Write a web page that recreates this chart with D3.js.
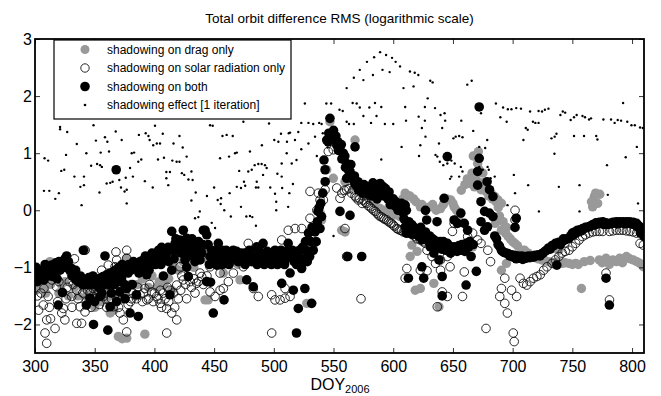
<!DOCTYPE html>
<html>
<head>
<meta charset="utf-8">
<script src="https://cdn.jsdelivr.net/npm/d3@7"></script>
<style>
  body { margin: 0; background: #fff; }
  svg { display: block; font-family: "Liberation Sans", Arial, Helvetica, sans-serif; }
</style>
</head>
<body>
<svg id="chart" width="661" height="396"></svg>
<script>
const X_TICKS = [300, 350, 400, 450, 500, 550, 600, 650, 700, 750, 800];
const Y_TICKS = [-2, -1, 0, 1, 2, 3];

const LEGEND_LABELS = [
    "shadowing on drag only",
    "shadowing on solar radiation only",
    "shadowing on both",
    "shadowing effect [1 iteration]"
];

// [DOY, log10 RMS]
const drag_only = [
    [304,-1.25],[307,-1.34],[312.6,-0.9],[318,-1.1],[322,-1.3],[330,-1.1],[341.9,-0.7],[345,-1.35],[352,-1.3],
    [358,-1.45],[365,-1.5],[369.8,-2.21],[373,-2.25],[376.8,-2.24],[392,-2.17],[376.8,-0.84],[384,-1.5],[395,-1.35],
    [404,-1.25],[414.5,-1.4],[420,-1.05],[428,-0.95],[436,-0.85],[442,-0.64],[445,-1.57],[442.4,-1.57],[450,-0.9],
    [457.7,-1.1],[463,-0.8],[471.7,-1.22],[480,-0.85],[490,-0.9],[502.4,-0.78],[509.4,-0.81],[515,-0.85],[522,-0.75],
    [527.6,-1.63],[533,-0.61],[539,-0.06],[540,-0.17],[544.3,0.71],[547,1.55],[549.8,0.56],[556.8,-0.35],[559.6,-0.38],
    [559.6,0.5],[561,-0.81],[568,1.23],[572.2,0.36],[576.4,0.27],[580.6,0.18],[584.8,0.12],[589,0.03],[593.2,0.0],
    [597.3,-0.05],[601.5,-0.08],[605.7,-0.11],[607,0.12],[612,0.25],[617,0.2],[615.6,-0.61],[620,-0.72],[614.2,-0.81],
    [618.4,-1.4],[622.7,-1.37],[622.7,0.06],[627,0.0],[631.1,0.06],[634,-1.28],[638.3,-1.69],[639.6,0.03],[645.3,0.94],
    [648.2,0.18],[651,0.06],[655,-0.1],[663.7,0.47],[666.5,-0.64],[667,0.95],[668,0.41],[670.7,0.82],[671.3,1.03],
    [672,0.71],[673.5,0.36],[675,0.65],[677.7,0.33],[682,0.3],[685,0.24],[687.8,0.18],[690.6,0.12],[685.5,-0.23],
    [690.6,-0.35],[694,-0.4],[696.2,-0.46],[690.6,-1.05],[694.8,-0.93],[701.9,-0.58],[707.5,-0.7],[713.2,-0.75],
    [718.8,-0.81],[724.5,-0.87],[730.1,-0.9],[735.8,-0.93],[735.8,-0.67],[738.7,-0.7],[741.5,-0.93],[747.2,-0.93],
    [752.8,-0.93],[757.6,-1.37],[767,0.06],[768.4,0.24],[771.2,0.12],[773,0.28],[772.6,-0.87],[778.2,-0.84],
    [783.9,-0.87],[789.6,-0.84],[795.3,-0.81],[801,-0.87],[806.6,-0.93],[809.4,-0.99],
    [301,-1.4],[305,-1.1],[309,-1.45],[313,-1.3],[316,-1.2],[320,-1.45],[325,-1.25],[328,-1.5],[333,-1.35],[336,-1.5],
    [340,-1.35],[343,-1.5],[348,-1.45],[350,-1.7],[355,-1.6],[360,-1.55],[363,-1.8],[366,-1.75],[370,-1.5],[372,-1.3],
    [375,-1.45],[380,-1.3],[386,-1.3],[390,-1.2],[398,-1.15],[402,-1.35],[408,-1.3],[412,-1.2],[417,-1.0],[424,-0.9],
    [430,-0.85],[433,-1.0],[440,-0.85],[447,-0.75],[453,-0.8],[460,-0.85],[466,-0.8],[470,-0.95],[475,-0.85],[485,-0.85],
    [495,-0.85],[500,-0.8],[505,-0.85],[518,-0.8],[525,-0.7],
    [608,0.2],[610,0.3],[614,0.25],[619,0.15],[624,0.1],[629,0.05],[633,0.1],[636,0.0],[642,0.1],[645,0.2],[650,0.12],
    [653,0.0],[657,0.35],[660,0.45],[662,0.55],[665,0.5],[666,0.65],[669,0.55],[671,0.5],[674,0.48],[676,0.42],
    [679,0.38],[680,0.25],[683,0.2],[686,0.15],[688,0.05],[689,-0.1],[692,-0.2],[695,-0.3],[698,-0.5],[700,-0.55],
    [704,-0.62],[710,-0.7],[716,-0.8],[721,-0.85],[727,-0.88],[733,-0.92],[738,-0.9],[744,-0.92],[750,-0.95],
    [755,-0.95],[760,-0.9],[765,-0.88],[766,0.15],[769.5,0.3],[775,-0.92],[781,-0.95],[787,-0.9],[792,-0.92],
    [798,-0.85],[804,-0.9]
];

const solar_only = [
    [302,-1.5],[304,-1.2],[307,-1.66],[307.5,-1.37],[308.4,-2.15],[309.8,-2.33],[309.8,-1.92],[311,-1.51],[314,-1.22],
    [316.8,-2.07],[318,-1.34],[322.4,-1.8],[323.7,-1.72],[325,-1.92],[328.7,-1.25],[330.7,-1.51],[333,-0.85],[335,-1.4],
    [335,-1.98],[337.7,-1.69],[339,-1.98],[341.9,-1.78],[341.9,-0.7],[344,-1.4],[348.8,-1.37],[351.7,-1.48],[355.8,-1.05],
    [357.2,-1.51],[361.4,-0.96],[361.4,-1.57],[362.8,-1.16],[365.6,-1.69],[367,-0.99],[367.8,-0.73],[368.4,-0.87],
    [371.2,-1.8],[374,-1.92],[376.8,-0.84],[376.8,-0.7],[376.8,-2.13],[380,-1.6],[382.3,-1.45],[388,-1.48],[392,-1.37],
    [393.6,-1.57],[397.7,-1.43],[399,-1.6],[401.9,-1.51],[404.7,-1.63],[407.5,-1.45],[410.3,-1.72],[410.3,-2.15],
    [413,-1.4],[414.5,-1.8],[418.7,-1.92],[418.7,-1.31],[421.4,-0.99],[424.2,-1.22],[427,-0.81],[429.8,-1.25],
    [432.6,-0.72],[435.4,-1.28],[438.2,-1.1],[439.6,-1.16],[439.6,-0.7],[443.8,-0.75],[446.6,-1.43],[446.6,-0.99],
    [450.8,-1.51],[455,-1.1],[455,-0.75],[455,-1.4],[457.7,-1.37],[461.9,-1.25],[461.9,-0.75],[466.1,-1.1],[468.9,-0.75],
    [474.5,-0.99],[477.3,-0.81],[478.6,-0.58],[482.8,-1.37],[487,-1.51],[487,-0.7],[492.6,-0.75],[498.2,-1.48],
    [498.2,-2.15],[501,-1.57],[502.4,-0.72],[505.2,-1.57],[506.6,-0.52],[509.4,-1.54],[509.4,-1.37],[512.1,-0.35],
    [513.6,-1.51],[516.3,-0.75],[517.8,-0.32],[523.4,-0.32],[530.3,-0.14],[530.3,0.33],[536,0.0],[537.3,0.3],
    [538.7,0.18],[541.5,0.18],[542.9,0.36],[545.6,1.03],[549.8,1.06],[552.7,0.39],[555.4,0.21],[559.6,-0.32],[561,0.36],
    [561,-0.81],[566.6,0.36],[568,0.25],[570.8,0.18],[573,-1.55],[575,0.18],[577.8,0.12],[580.6,0.06],[583.4,0.0],
    [586.2,-0.05],[589,-0.11],[591.8,-0.14],[594.6,-0.17],[598.7,-0.23],[601,-0.28],[603,-0.32],[605.7,-0.35],[610,-0.38],
    [614,-0.4],[618.4,-0.46],[622.7,-0.52],[627,-0.58],[611.4,-1.02],[610,-1.19],[622.7,-1.05],[628.3,-1.06],[628.3,-0.7],
    [632.5,-0.81],[635.4,-0.93],[636.9,-1.69],[639.6,-0.87],[639.6,-1.05],[641,-1.43],[645.3,-0.81],[645.3,-1.51],
    [647.6,-0.99],[649.6,-0.37],[650.9,-0.7],[651,-0.23],[655.2,-0.64],[658,-1.51],[659.5,-1.08],[662.3,-0.46],
    [666.5,-0.4],[670.7,-0.52],[673.5,-0.58],[677.7,-2.07],[679.2,-0.7],[681.5,-0.9],[689.2,-1.51],[690.6,-1.37],
    [693.4,-1.19],[693.4,-1.63],[695.6,-1.8],[699.1,-1.4],[700.5,-2.15],[701.3,-2.3],[702,0.0],[702,-0.17],[703.3,-1.51],
    [706.2,-1.19],[709,-1.28],[711.8,-1.31],[714.6,-1.25],[717.4,-1.19],[720.3,-1.16],[723.1,-1.13],[726,-1.05],
    [728.8,-0.99],[733,-0.93],[735.8,-0.87],[738.7,-0.81],[741.5,-0.75],[744,-0.72],[747.2,-0.7],[750,-0.64],
    [752.8,-0.58],[755.6,-0.52],[758.5,-0.46],[761,-0.43],[764.1,-0.4],[767,-0.38],[769.8,-0.37],[772.6,-0.37],
    [775.5,-0.37],[778.2,-1.1],[781.1,-1.57],[781.1,-0.37],[784,-0.36],[786.8,-0.35],[789.6,-0.35],[792.5,-0.35],
    [795.3,-0.36],[798.2,-0.37],[801,-0.38],[803.8,-0.4],[806.7,-0.58],[809.4,-0.61],
    [303,-1.75],[305,-1.45],[312,-1.7],[313,-1.9],[319,-1.6],[320,-1.25],[326,-1.55],[327,-1.35],[331,-1.7],[332,-1.3],
    [336,-1.55],[340,-1.45],[343,-1.6],[346,-1.45],[347,-1.7],[350,-1.55],[353,-1.4],[354,-1.65],[356,-1.3],[359,-1.45],
    [360,-1.7],[364,-1.55],[366,-1.4],[369,-1.55],[370,-1.7],[373,-1.55],[378,-1.65],[381,-1.55],[385,-1.55],[386,-1.35],
    [390,-1.6],[391,-1.45],[395,-1.55],[396,-1.3],[400,-1.45],[403,-1.55],[405,-1.4],[406,-1.7],[409,-1.55],[411,-1.35],
    [412,-1.6],[416,-1.45],[417,-1.7],[420,-1.55],[422,-1.4],[423,-1.15],[426,-1.3],[427,-1.55],[431,-1.35],[433,-1.2],
    [434,-1.45],[437,-1.25],[441,-1.3],[444,-1.15],
    [557,0.3],[559,0.35],[563,0.38],[565,0.3],[569,0.22],[572,0.2],[574,0.12],[576.5,0.14],[579,0.08],[582,0.03],
    [585,-0.02],[587.5,-0.08],[590.5,-0.12],[593,-0.16],[596,-0.2],[597.5,-0.22],[600,-0.26],[604,-0.33],[607,-0.36],
    [608.5,-0.38],[612,-0.4],[616,-0.43],[620,-0.5],[625,-0.55]
];

const both = [
    [301,-1.0],[303,-1.15],[306,-1.13],[310,-1.05],[314,-0.96],[315,-1.16],[319.5,-1.66],[320,-0.9],[322,-0.96],
    [323,-1.44],[326.5,-0.8],[328,-0.9],[330.7,-1.02],[332,-1.1],[335,-1.16],[337,-1.22],[339,-1.25],[340.5,-0.7],
    [341.9,-1.22],[343,-1.66],[344.6,-1.25],[346,-1.54],[347.5,-1.22],[349,-2.0],[349.4,-1.28],[350,-1.6],[351.7,-1.22],
    [354.4,-1.19],[354.4,-1.51],[357,-1.16],[357,-1.22],[358.6,-0.8],[359.9,-1.13],[361,-2.1],[362.8,-1.1],[362.8,-1.31],
    [362.8,-1.69],[365.6,-1.16],[368,0.71],[368.4,-1.13],[368.4,-1.6],[371,-1.04],[371,-1.43],[374,-1.1],[376.8,-1.02],
    [376.8,-1.37],[379.6,-1.8],[383.8,-0.96],[385,-1.48],[386.5,-1.86],[388,-0.9],[390.7,-0.87],[393.6,-1.13],
    [396.3,-0.82],[399,-0.87],[401,-0.95],[404.7,-0.81],[407.5,-0.73],[407.5,-1.15],[410.3,-0.75],[413,-1.48],
    [414.5,-0.37],[414.5,-1.05],[417.3,-0.58],[419,-0.7],[421.4,-0.52],[424.2,-0.35],[425.6,-0.87],[427,-0.49],
    [427,-1.0],[428.4,-1.16],[429.8,-0.58],[432.6,-0.78],[435.4,-0.84],[438.2,-0.87],[441,-0.35],[442.4,-0.35],
    [443.8,-0.43],[443.8,-1.25],[446.6,-0.81],[447,-1.26],[449.3,-0.87],[449.3,-1.8],[452.2,-0.96],[453.5,-0.58],
    [455,-0.85],[458.3,-1.57],[458,-0.8],[461,-0.9],[464,-0.75],[467,-0.85],[468.9,-0.72],[471,-0.8],[474,-0.9],
    [477.3,-1.22],[477,-0.8],[480,-0.75],[482.8,-1.34],[483,-0.85],[485.7,-0.64],[487,-0.8],[489,-0.9],[491,-0.58],
    [493,-0.8],[496,-0.85],[499,-0.75],[502,-0.9],[504,-0.8],[506.6,-1.28],[507,-0.75],[510,-0.85],[512,-0.58],
    [513.6,-1.1],[514,-0.8],[516.3,-1.4],[517,-0.9],[519,-2.15],[520,-0.8],[520.5,-1.72],[523.3,-1.02],[526,-1.37],
    [527,-0.7],[529,-0.4],[530,-0.81],[531.7,-1.63],[533,-0.7],[534.5,-0.38],[537,-0.02],[538.7,-0.32],[539.3,0.12],
    [540,-0.11],[542,0.88],[542.9,0.71],[544.3,1.23],[547,1.61],[548.5,1.29],[551,1.29],[552.7,1.14],[555.4,1.06],
    [555.4,-0.02],[558.2,1.0],[561,0.82],[561,0.56],[561.9,-0.81],[563.8,0.68],[563.8,-0.09],[566.6,0.53],[568,1.11],
    [569.4,0.47],[572.2,0.39],[573.6,-0.81],[576.4,0.36],[580.6,0.33],[583,0.48],[584.8,0.27],[589,0.47],[591.7,0.41],
    [594.6,0.3],[598.7,0.18],[603,0.06],[605.7,0.0],[607,0.12],[610,0.09],[611,0.0],[610,-0.29],[611,-0.4],
    [612.7,-1.19],[617,-0.29],[620,-0.4],[622.7,-0.35],[624,-0.52],[624,-0.99],[625.5,-1.19],[627,0.0],[628,-0.17],
    [628.3,-0.46],[631,-0.64],[634,-0.52],[634,-0.75],[636.7,-0.2],[638.3,-0.87],[639.6,-0.55],[641,-1.16],[641,-1.5],
    [642.6,0.21],[645.3,0.94],[645.3,-0.58],[648,-0.75],[650.9,-0.64],[651,-0.17],[653.8,-0.23],[656.6,-0.05],
    [656.6,-0.7],[658,-0.67],[659.5,-0.23],[661,-0.58],[661,-1.31],[662.3,-0.35],[665.2,-0.81],[667,-0.6],[669.6,-1.07],
    [670.7,0.68],[670.7,0.44],[672,1.81],[672,0.91],[673.5,0.15],[673.5,-0.2],[676.5,-0.02],[676.5,-0.35],[678.6,0.5],
    [679,-0.29],[680.6,0.36],[680.6,-0.05],[683.5,0.24],[683.5,-0.11],[685,-0.45],[687.8,-0.6],[690.6,-0.7],[693,-0.74],
    [696.2,-0.76],[699,-0.78],[701.9,-0.79],[702,-0.3],[703,-0.14],[704.5,-0.8],[707.5,-0.8],[710,-0.81],[713.2,-0.8],
    [716,-0.8],[718.8,-0.79],[721.5,-0.78],[724.5,-0.76],[727,-0.72],[730.1,-0.66],[733,-0.62],[735.8,-0.58],[737,-0.96],
    [738.6,-0.56],[741.5,-0.55],[744,-0.52],[747.2,-0.49],[750,-0.4],[752,-0.38],[754.3,-0.35],[756.5,-0.34],[758.5,-0.32],
    [761,-0.3],[764.1,-0.29],[767,-0.25],[769.8,-0.22],[772.6,-0.21],[775.5,-0.2],[778.2,-1.19],[778,-0.22],[781,-1.66],
    [781.1,-0.23],[784,-0.21],[786.8,-0.2],[789.6,-0.2],[792.5,-0.2],[795.3,-0.2],[798,-0.2],[801,-0.21],[803.8,-0.23],
    [806,-0.28],[808,-0.35],[810,-0.46],
    [300.5,-1.1],[302,-1.25],[304.5,-1.2],[305,-1.05],[307.5,-1.22],[308.5,-0.95],[311.5,-1.15],[312.5,-1.0],
    [316.5,-1.05],[317.5,-0.92],[318.5,-1.2],[321,-1.05],[324,-1.0],[325,-0.85],[327,-0.95],[329,-1.05],[331,-1.15],
    [333.5,-1.2],[334,-1.05],[336,-1.25],[338,-1.15],[340,-1.3],[342.5,-1.3],[345,-1.18],[346.5,-1.3],[348.5,-1.15],
    [350.5,-1.3],[352.5,-1.25],[353.5,-1.35],[355.5,-1.25],[356,-1.45],[358,-1.3],[360,-1.25],[361.5,-1.2],[364,-1.25],
    [364,-1.45],[366.5,-1.3],[367,-1.05],[369.5,-1.25],[370,-1.0],[372.5,-1.2],[373,-0.95],[375,-1.3],[375.5,-1.55],
    [378,-1.1],[378.5,-0.95],[380.5,-1.05],[381.5,-1.3],[382.5,-0.9],[385.5,-1.0],[387,-1.1],[389.5,-0.95],[391.5,-1.0],
    [392.5,-0.8],[394.5,-0.9],[395.5,-1.05],[397.5,-0.95],[398,-0.75],[400,-0.8],[402.5,-0.85],[403.5,-0.7],[405.5,-0.95],
    [406,-0.65],[409,-0.85],[411.5,-0.65],[412,-0.9],[415.5,-0.7],[416.5,-0.85],[418,-0.5],[420,-0.6],[422.5,-0.75],
    [423,-0.55],[426,-0.65],[428.5,-0.8],[430.5,-0.7],[431.5,-0.5],[433.5,-0.65],[434,-0.9],[436.5,-0.7],[437,-0.55],
    [439.5,-0.75],[440.5,-0.6],[445,-0.6],[446,-0.95],[448,-0.7],[451,-0.75],[452.5,-0.7],[454,-0.95],[456.5,-0.7],
    [457,-0.95],[459.5,-0.85],[460,-0.7],[462.5,-0.95],[463,-0.8],[465.5,-0.85],[466,-0.7],[470,-0.9],[472.5,-0.75],
    [473,-0.85],[475.5,-0.75],[476,-0.95],[478.5,-0.85],[479.5,-0.7],[481.5,-0.9],[484.5,-0.8],[486,-0.95],[488,-0.72],
    [490,-0.85],[492,-0.95],[494.5,-0.72],[495,-0.9],[497.5,-0.8],[498,-0.95],[500.5,-0.85],[501,-0.7],[503,-0.95],
    [505.5,-0.85],[506,-0.7],[508.5,-0.8],[509,-0.95],[511,-0.72],[515.5,-0.7],[518,-0.75],[519,-0.95],[521.5,-0.7],
    [522,-0.9],[524,-0.65],[525,-0.85],[526.5,-0.55],[528,-0.9],[531,-0.55],[532,-0.3],[535.5,-0.55],[536.5,-0.2],
    [538,0.05],[541,0.3],[543,0.5],[545.5,1.2],[546,1.35],[549.5,1.25],[550,1.4],[552,1.3],[553.5,1.2],[554,1.05],
    [556.5,1.15],[557,0.9],[559.5,0.95],[560,0.75],[562.5,0.7],[564.5,0.8],[565,0.6],[567.5,0.6],[568,0.45],[570.5,0.5],
    [571,0.35],[573,0.45],[574.5,0.3],[575.5,0.45],[577.5,0.3],[578.5,0.4],[579.5,0.28],[581.5,0.42],[582.5,0.25],
    [585.5,0.4],[586.5,0.2],[587.5,0.35],[590,0.3],[592.5,0.25],[593.5,0.38],[595.5,0.2],[596.5,0.32],[597.5,0.1],
    [600,0.2],[601,0.08],[602,0.15],[604,0.0],[606.5,0.05],[608.5,-0.05],[609,-0.15],[613,-0.2],[614,-0.35],
    [615.5,-0.25],[616,-0.42],[619,-0.35],[621,-0.45],[623,-0.3],[626,-0.45],[627,-0.38],[629.5,-0.55],[630.5,-0.45],
    [632.5,-0.6],[633,-0.5],[635.5,-0.6],[637,-0.55],[638,-0.65],[640.5,-0.68],[642,-0.55],[644,-0.7],[646.5,-0.62],
    [647,-0.72],[649.5,-0.7],[652,-0.68],[653.5,-0.72],[655,-0.62],[657.5,-0.6],[660,-0.72],[663,-0.65],[664,-0.55],
    [686.5,-0.5],[689,-0.63],[691.5,-0.72],[694.5,-0.75],[697.5,-0.8],[700.5,-0.82],[703,-0.85],[706,-0.84],
    [708.5,-0.86],[711.5,-0.84],[714.5,-0.83],[717.5,-0.82],[720,-0.8],[723,-0.8],[725.5,-0.75],[728.5,-0.7],
    [731.5,-0.68],[734.5,-0.62],[740,-0.6],[742.5,-0.5],[745.5,-0.5],[748.5,-0.45],[751,-0.43],[753,-0.4],[755.5,-0.37],
    [757.5,-0.36],[760,-0.32],[762.5,-0.3],[765.5,-0.27],[768.5,-0.26],[771,-0.24],[774,-0.22],[776.5,-0.25],
    [779.5,-0.25],[782.5,-0.24],[785.5,-0.22],[788,-0.24],[791,-0.22],[794,-0.24],[797,-0.22],[799.5,-0.24],
    [802.5,-0.26],[805,-0.3],[807,-0.4],[809,-0.4]
];

const effect = [
    [308,0.91],[311,0.87],[307.5,0.34],[312,0.34],[317,0.2],[320,0.3],[322,0.69],[324.5,0.71],[321,1.42],[321,1.46],
    [327,1.37],[326,0.97],[335,1.16],[333,0.59],[339,0.09],[338,0.41],[341,0.44],[341,0.59],[343,1.0],[347,0.78],
    [352,0.81],[354.5,0.79],[356,0.76],[349,1.49],[351,1.22],[354,0.31],[355,1.01],[358.6,1.28],[360.6,1.2],[362,1.03],
    [360,0.47],[363,0.48],[365,0.5],[367.6,1.38],[370.6,0.53],[372,0.4],[375,0.33],[376.8,0.36],[372.6,1.23],
    [376.8,0.12],[376,0.57],[381,1.0],[383,1.01],[379.6,0.74],[382,0.59],[387,1.32],[386.5,0.85],[389,0.89],
    [392.7,1.35],[395,1.3],[392,0.51],[396,1.23],[399,1.14],[400.5,1.48],[398.6,0.4],[402,1.17],[404.7,1.17],[403,0.89],
    [408,0.92],[407,1.34],[410,0.67],[413,0.67],[410,0.56],[411.6,0.44],[416,1.17],[415,0.87],[418.6,0.85],[421,0.85],
    [421,1.3],[423.7,1.1],[423,0.65],[425,0.62],[427,0.94],[428.5,0.54],[431,0.68],[432,0.53],[431,0.17],[434.6,0.31],
    [446.6,1.49],[448.8,1.48],[434,-0.14],[436.8,-0.12],[438,-0.02],[444,0.25],[448,-0.22],[450,0.4],[450.8,-0.31],
    [453,0.18],[455.8,0.21],[455.5,0.11],[457,1.3],[460.5,1.32],[465.6,1.3],[455,0.91],[462.5,0.94],[467.5,1.0],
    [469,1.01],[458.5,0.0],[463,0.3],[464,-0.11],[469,0.41],[472.5,0.06],[472.5,0.39],[476,0.43],[471,0.69],[474.5,1.55],
    [475,0.5],[477,-0.11],[480,-0.1],[482,-0.12],[480,1.03],[478.6,0.68],[481.5,0.71],[484,0.79],[487,0.81],[489.8,0.81],
    [492.6,0.79],[494,0.74],[485,0.4],[487,0.4],[485,-0.27],[485.7,0.5],[490,1.14],[491,0.62],[496,1.52],[497,0.4],
    [500.4,1.23],[503.8,1.2],[506,1.34],[502,0.0],[506.6,0.59],[510.8,1.0],[512,0.06],[512.5,1.35],[513.6,1.36],
    [520.5,1.37],[526,1.87],[523,1.53],[529,1.53],[533,1.51],[538,1.53],[540,1.51],[534.5,1.29],[523,1.07],[529,1.17],
    [536,0.95],[511,1.2],[517.7,1.23],[519,0.88],[515,0.82],[506.6,0.82],[503,0.64],[516,0.46],[513,0.3],[507,0.39],
    [501,0.29],[502,0.15],[541,1.35],[545,1.1],[550,-0.45],[544,1.87],[548,1.87],[555,1.76],[557.7,1.74],[561,1.55],
    [563,1.51],[567,1.51],[569.4,1.87],[572,1.8],[575,1.65],[581.4,1.53],[584.7,1.88],[590,1.81],[590,0.89],[593,1.51],
    [600,1.51],[561,2.14],[567,2.32],[572,2.46],[578,2.6],[584,2.68],[589,2.77],[594,2.72],[599,2.67],[602,2.6],
    [605.7,2.52],[575,2.28],[583,2.37],[591,2.46],[597,2.42],[566,1.88],[580,1.8],[586,1.65],[614,2.43],[618,2.41],
    [621,2.37],[608.6,2.14],[617,2.17],[631,2.27],[633,2.24],[610,1.81],[626.5,1.81],[635,1.79],[610.7,1.57],
    [626.5,1.57],[628.9,1.96],[607,1.11],[621.6,0.95],[621.3,1.64],[624,1.44],[627,1.29],[622.7,1.14],[639.6,1.67],
    [643,1.7],[643.5,1.57],[635.4,0.97],[636.9,0.94],[639,0.85],[641.9,0.79],[645.3,0.82],[648.7,0.87],[651.5,0.82],
    [650.4,1.26],[652.3,1.29],[655.2,1.3],[658,1.28],[647.6,0.55],[648.7,0.59],[641,1.44],[638.3,1.17],[656.6,0.76],
    [658,0.68],[655.2,0.59],[657,1.57],[662,2.2],[665.7,2.27],[667,1.39],[673.5,1.7],[672,0.76],[675,0.71],[679,0.76],
    [680,0.71],[681.5,0.56],[685,0.59],[672,1.11],[677,1.09],[678.7,1.23],[680,0.3],[686,1.87],[689.7,1.63],[692,1.8],
    [696,1.77],[699,1.77],[703,1.79],[707,1.78],[695,1.55],[695.7,0.09],[701,0.62],[702,0.3],[709,1.23],[711,1.44],
    [712.6,1.41],[713,0.44],[717,1.55],[719,1.53],[721.7,1.53],[714.6,1.73],[721.7,1.74],[724.6,1.73],[727,1.76],
    [730,1.78],[722,-0.02],[732.5,1.26],[735.2,1.29],[736.7,1.34],[735,0.99],[738.7,0.41],[740,1.67],[742,1.73],
    [744,1.71],[748.6,1.58],[751.4,1.63],[751.4,1.3],[753.6,1.67],[758.5,1.65],[760.6,1.63],[764,1.59],[765.6,1.61],
    [756,-0.02],[756,0.44],[759.8,1.3],[770,1.3],[771,1.24],[776,1.59],[779,0.79],[779.7,0.27],[782.4,1.59],
    [785.4,1.53],[788,1.58],[790.8,1.57],[792.5,1.88],[794.7,0.93],[796,1.55],[799.5,1.49],[802.3,1.49],[804,1.11],
    [805,0.12],[806.7,1.45],[809,1.44]
];

const GRAY = "#999999";

var svg = d3.select("svg#chart");
const plot = { left: 35, right: 644, top: 39, bottom: 353 };

var x = d3.scaleLinear().domain([300, 810]).range([plot.left, plot.right]);
var y = d3.scaleLinear().domain([-2.5, 3]).range([plot.bottom, plot.top]);

svg.append("defs").append("clipPath").attr("id", "plotclip")
    .append("rect")
    .attr("x", plot.left).attr("y", plot.top)
    .attr("width", plot.right - plot.left).attr("height", plot.bottom - plot.top);

var marks = svg.append("g").attr("clip-path", "url(#plotclip)");

marks.append("g").selectAll("circle").data(drag_only).join("circle")
    .attr("cx", d => x(d[0])).attr("cy", d => y(d[1])).attr("r", 4.7)
    .attr("fill", GRAY);

marks.append("g").selectAll("circle").data(solar_only).join("circle")
    .attr("cx", d => x(d[0])).attr("cy", d => y(d[1])).attr("r", 4.3)
    .attr("fill", "none").attr("stroke", "#111").attr("stroke-width", 0.9);

marks.append("g").selectAll("circle").data(both).join("circle")
    .attr("cx", d => x(d[0])).attr("cy", d => y(d[1])).attr("r", 4.8)
    .attr("fill", "#000");

marks.append("g").selectAll("circle").data(effect).join("circle")
    .attr("cx", d => x(d[0])).attr("cy", d => y(d[1])).attr("r", 1.2)
    .attr("fill", "#000");

// axes, MATLAB style: ticks inside, on all four sides
function style_axis(g, labels) {
    g.select(".domain").remove();
    g.selectAll(".tick line").attr("stroke", "#000").attr("stroke-width", 0.8);
    g.selectAll(".tick text").attr("fill", "#000").style("font-size", "16px")
        .style("font-family", '"Liberation Sans", Arial, sans-serif');
    if (!labels) g.selectAll(".tick text").remove();
}

svg.append("g").attr("transform", "translate(0," + plot.bottom + ")")
    .call(d3.axisBottom(x).tickValues(X_TICKS).tickSizeInner(-5).tickSizeOuter(0).tickPadding(8))
    .call(g => style_axis(g, true));
svg.append("g").attr("transform", "translate(0," + plot.top + ")")
    .call(d3.axisTop(x).tickValues(X_TICKS).tickSizeInner(-5).tickSizeOuter(0))
    .call(g => style_axis(g, false));
svg.append("g").attr("transform", "translate(" + plot.left + ",0)")
    .call(d3.axisLeft(y).tickValues(Y_TICKS).tickSizeInner(-5).tickSizeOuter(0).tickPadding(3)
        .tickFormat(d => d < 0 ? "\u2212" + Math.abs(d) : d))
    .call(g => style_axis(g, true));
svg.append("g").attr("transform", "translate(" + plot.right + ",0)")
    .call(d3.axisRight(y).tickValues(Y_TICKS).tickSizeInner(-5).tickSizeOuter(0))
    .call(g => style_axis(g, false));

// legend
const LEG = { x: 54, y: 40, w: 237, h: 79, mark_x: 85, text_x: 107, row0: 49.5, step: 18.5 };
var legend = svg.append("g");
legend.append("rect")
    .attr("x", LEG.x).attr("y", LEG.y).attr("width", LEG.w).attr("height", LEG.h)
    .attr("fill", "#fff").attr("stroke", "#000").attr("stroke-width", 1.2);

LEGEND_LABELS.forEach(function(label, i) {
    var cy = LEG.row0 + i * LEG.step;
    var m = legend.append("circle").attr("cx", LEG.mark_x).attr("cy", cy);
    if (i == 0) m.attr("r", 4.5).attr("fill", GRAY);
    else if (i == 1) m.attr("r", 4.2).attr("fill", "none").attr("stroke", "#111").attr("stroke-width", 0.9);
    else if (i == 2) m.attr("r", 4.8).attr("fill", "#000");
    else m.attr("r", 1.3).attr("fill", "#000");
    legend.append("text")
        .attr("x", LEG.text_x).attr("y", cy)
        .attr("dy", "0.35em")
        .style("font-size", "12px")
        .text(label);
});

// frame
svg.append("rect")
    .attr("x", plot.left).attr("y", plot.top)
    .attr("width", plot.right - plot.left).attr("height", plot.bottom - plot.top)
    .attr("fill", "none").attr("stroke", "#000").attr("stroke-width", 1.8);

// title and x label
svg.append("text")
    .attr("x", (plot.left + plot.right) / 2).attr("y", 23)
    .attr("text-anchor", "middle")
    .style("font-size", "13.5px")
    .text("Total orbit difference RMS (logarithmic scale)");

var xlab = svg.append("text")
    .attr("x", 340).attr("y", 390)
    .attr("text-anchor", "middle")
    .style("font-size", "16px");
xlab.append("tspan").text("DOY");
xlab.append("tspan").attr("dy", 3).style("font-size", "11px").text("2006");
</script>
</body>
</html>
